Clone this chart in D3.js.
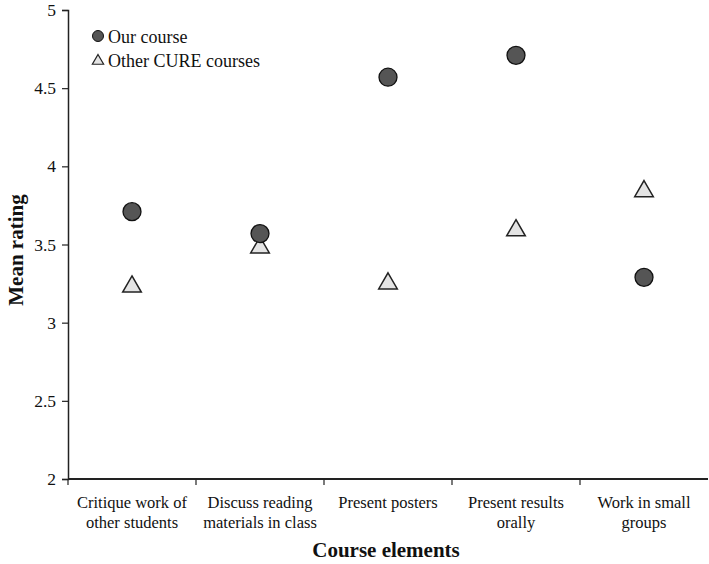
<!DOCTYPE html>
<html>
<head>
<meta charset="utf-8">
<script src="https://cdn.jsdelivr.net/npm/d3@7"></script>
<style>
  body { margin: 0; background: #fff; }
  svg text { font-family: "Liberation Serif", "Times New Roman", serif; fill: #111; }
</style>
</head>
<body>
<div id="plot"></div>
<script>
var categories = [
  ["Critique work of", "other students"],
  ["Discuss reading", "materials in class"],
  ["Present posters"],
  ["Present results", "orally"],
  ["Work in small", "groups"]
];
var ourCourse = [3.71, 3.57, 4.57, 4.71, 3.29];
var otherCure = [3.23, 3.48, 3.25, 3.59, 3.84];
var yTicks = [2, 2.5, 3, 3.5, 4, 4.5, 5];

var width = 709, height = 564;
var mLeft = 68, mRight = 708, mTop = 10, mBottom = 479;

var svg = d3.select("#plot").append("svg")
  .attr("width", width)
  .attr("height", height);

var x = d3.scaleBand()
  .domain(d3.range(categories.length))
  .range([mLeft, mRight]);

var y = d3.scaleLinear()
  .domain([2, 5])
  .range([mBottom, mTop]);

// y axis
var yAxis = svg.append("g")
  .attr("transform", "translate(" + mLeft + ",0)")
  .call(d3.axisLeft(y).tickValues(yTicks).tickSize(6).tickPadding(6)
    .tickFormat(function(d){ return String(d); }));
yAxis.select(".domain").attr("stroke", "#222").attr("stroke-width", 1.5);
yAxis.selectAll(".tick line").attr("stroke", "#222").attr("stroke-width", 1.2);
yAxis.selectAll(".tick text")
  .style("font-family", "Liberation Serif")
  .style("font-size", "17.5px")
  .attr("fill", "#111");

// x axis line + ticks at band boundaries
svg.append("line")
  .attr("x1", mLeft).attr("x2", mRight)
  .attr("y1", mBottom).attr("y2", mBottom)
  .attr("stroke", "#222").attr("stroke-width", 1.8);

svg.selectAll(".xtick")
  .data(d3.range(categories.length))
  .enter().append("line")
  .attr("class", "xtick")
  .attr("x1", function(d){ return x(d); })
  .attr("x2", function(d){ return x(d); })
  .attr("y1", mBottom)
  .attr("y2", mBottom + 6)
  .attr("stroke", "#222").attr("stroke-width", 1.2);

var lab = svg.selectAll(".xlab")
  .data(categories)
  .enter().append("text")
  .attr("class", "xlab")
  .attr("text-anchor", "middle")
  .style("font-size", "16.5px");
lab.selectAll("tspan")
  .data(function(d, i){ return d.map(function(s){ return {s: s, i: i}; }); })
  .enter().append("tspan")
  .attr("x", function(d){ return x(d.i) + x.bandwidth() / 2; })
  .attr("y", function(d, j){ return 508 + j * 20; })
  .text(function(d){ return d.s; });

// axis titles
svg.append("text")
  .attr("x", 386).attr("y", 557)
  .attr("text-anchor", "middle")
  .style("font-size", "21px").style("font-weight", "bold")
  .text("Course elements");

svg.append("text")
  .attr("transform", "translate(23,250) rotate(-90)")
  .attr("text-anchor", "middle")
  .style("font-size", "21px").style("font-weight", "bold")
  .text("Mean rating");

// markers
var tri = d3.symbol().type(d3.symbolTriangle).size(150);

svg.selectAll(".other")
  .data(otherCure)
  .enter().append("path")
  .attr("class", "other")
  .attr("d", tri)
  .attr("transform", function(d, i){ return "translate(" + (x(i) + x.bandwidth() / 2) + "," + y(d) + ")"; })
  .attr("fill", "#e4e4e4")
  .attr("stroke", "#222").attr("stroke-width", 1.5);

svg.selectAll(".ours")
  .data(ourCourse)
  .enter().append("circle")
  .attr("class", "ours")
  .attr("cx", function(d, i){ return x(i) + x.bandwidth() / 2; })
  .attr("cy", function(d){ return y(d); })
  .attr("r", 9)
  .attr("fill", "#555")
  .attr("stroke", "#111").attr("stroke-width", 1.3);

// legend
svg.append("circle")
  .attr("cx", 98).attr("cy", 36).attr("r", 5.5)
  .attr("fill", "#555").attr("stroke", "#111").attr("stroke-width", 1);
svg.append("path")
  .attr("d", d3.symbol().type(d3.symbolTriangle).size(55))
  .attr("transform", "translate(98,61)")
  .attr("fill", "#e4e4e4").attr("stroke", "#222").attr("stroke-width", 1.2);
svg.append("text").attr("x", 108).attr("y", 43)
  .style("font-size", "18px").text("Our course");
svg.append("text").attr("x", 108).attr("y", 67)
  .style("font-size", "18px").text("Other CURE courses");
</script>
</body>
</html>
